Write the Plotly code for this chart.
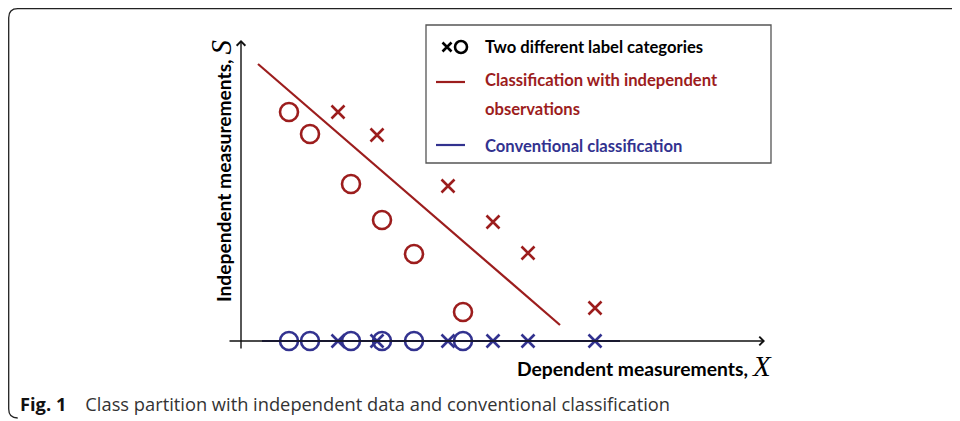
import plotly.graph_objects as go

# ---- data (axis units) ----
circle_x = [0.96, 1.38, 2.20, 2.82, 3.46, 4.44]
circle_s = [4.58, 4.14, 3.14, 2.42, 1.74, 0.58]
cross_x = [1.94, 2.72, 4.14, 5.04, 5.74, 7.08]
cross_s = [4.58, 4.12, 3.10, 2.38, 1.76, 0.66]
boundary_x = [0.34, 6.38]
boundary_s = [5.54, 0.32]
conventional_x = [0.42, 7.58]
conventional_s = [0.0, 0.0]

legend_labels = ["Two different label categories",
                 "Classification with independent",
                 "observations",
                 "Conventional classification"]
x_title = "Dependent measurements,"
y_title = "Independent measurements,"
caption_bold = "Fig. 1"
caption_text = "Class partition with independent data and conventional classification"

RED = "#9C1D1D"
BLUE = "#32328F"
OFF = 8              # page body margin
SW, SH = 960, 421    # screen size
W, H = SW - OFF, SH - OFF

def dx(px):
    return (px - OFF) / W

def dy(py):
    return 1 - (py - OFF) / H

fig = go.Figure()

fig.add_trace(go.Scatter(x=boundary_x, y=boundary_s, mode="lines",
                         line=dict(color=RED, width=2.2), showlegend=False))
fig.add_trace(go.Scatter(x=conventional_x, y=conventional_s, mode="lines",
                         line=dict(color=BLUE, width=2.2), showlegend=False))
fig.add_trace(go.Scatter(x=circle_x, y=circle_s, mode="markers",
                         marker=dict(symbol="circle-open", size=18, color=RED,
                                     line=dict(width=2.6, color=RED)), showlegend=False))
fig.add_trace(go.Scatter(x=cross_x, y=cross_s, mode="markers",
                         marker=dict(symbol="x-thin-open", size=13, color=RED,
                                     line=dict(width=2.6, color=RED)), showlegend=False))
fig.add_trace(go.Scatter(x=cross_x, y=[0] * len(cross_x), mode="markers",
                         marker=dict(symbol="x-thin-open", size=13, color=BLUE,
                                     line=dict(width=2.6, color=BLUE)), showlegend=False))
fig.add_trace(go.Scatter(x=circle_x, y=[0] * len(circle_x), mode="markers",
                         marker=dict(symbol="circle-open", size=18, color=BLUE,
                                     line=dict(width=2.6, color=BLUE)), showlegend=False))

# legend symbols on pixel overlay axes
fig.add_trace(go.Scatter(x=[447], y=[47], xaxis="x2", yaxis="y2", mode="markers",
                         marker=dict(symbol="x-thin-open", size=9, color="black",
                                     line=dict(width=2.6, color="black")), showlegend=False))
fig.add_trace(go.Scatter(x=[461], y=[47], xaxis="x2", yaxis="y2", mode="markers",
                         marker=dict(symbol="circle-open", size=12, color="black",
                                     line=dict(width=2.6, color="black")), showlegend=False))

shapes = []
r = 9
b0 = 8.7
shapes.append(dict(type="path", xref="x2", yref="y2",
                   path=f"M 980 {b0} L {b0+r} {b0} Q {b0} {b0} {b0} {b0+r} L {b0} {418-r} Q {b0} 418 {b0+r} 418",
                   line=dict(color="#222222", width=1.3)))
shapes.append(dict(type="rect", xref="x2", yref="y2", x0=426, y0=25, x1=771, y1=163,
                   line=dict(color="#555555", width=1.3), fillcolor="white", layer="below"))
shapes.append(dict(type="line", xref="x2", yref="y2", x0=436, x1=465, y0=82, y1=82,
                   line=dict(color=RED, width=2.2)))
shapes.append(dict(type="line", xref="x2", yref="y2", x0=436, x1=465, y0=145, y1=145,
                   line=dict(color=BLUE, width=2.2)))

font_main = "Lato"
ann = []
ann.append(dict(xref="x2", yref="y2", axref="x2", ayref="y2", x=765, y=341, ax=228, ay=341,
                text="", showarrow=True, arrowhead=4, arrowsize=1.2, arrowwidth=1.4,
                arrowcolor="#111111"))
ann.append(dict(xref="x2", yref="y2", axref="x2", ayref="y2", x=241, y=40, ax=241, ay=350,
                text="", showarrow=True, arrowhead=4, arrowsize=1.2, arrowwidth=1.4,
                arrowcolor="#111111"))
leg_y = [47, 80, 109, 146]
leg_c = ["black", RED, RED, BLUE]
for t, yy, cc in zip(legend_labels, leg_y, leg_c):
    ann.append(dict(xref="x2", yref="y2", x=483, y=yy, text=f"<b>{t}</b>", showarrow=False,
                    xanchor="left", yanchor="middle",
                    font=dict(family=font_main, size=16.6, color=cc)))
ann.append(dict(xref="x2", yref="y2", x=774, y=366,
                text=f"<b>{x_title}</b> <span style='font-family:Liberation Serif;font-size:29px'><i>X</i></span>",
                showarrow=False, xanchor="right", yanchor="middle",
                font=dict(family=font_main, size=19.3, color="black")))
ann.append(dict(xref="x2", yref="y2", x=221, y=171,
                text=f"<b>{y_title}</b> <span style='font-family:Liberation Serif;font-size:29px'><i>S</i></span>",
                showarrow=False, textangle=-90, xanchor="center", yanchor="middle",
                font=dict(family=font_main, size=19.2, color="black")))
ann.append(dict(xref="x2", yref="y2", x=18, y=403,
                text=f"<b>{caption_bold}</b>&nbsp;&nbsp;&nbsp;&nbsp;<span style='color:#333333'>{caption_text}</span>",
                showarrow=False, xanchor="left", yanchor="middle",
                font=dict(family="Open Sans", size=18.3, color="#111111")))

fig.update_layout(
    width=W, height=H, margin=dict(l=0, r=0, t=0, b=0),
    paper_bgcolor="white", plot_bgcolor="rgba(0,0,0,0)",
    xaxis=dict(domain=[dx(200), dx(800)], range=[-0.82, 11.18], visible=False, anchor="y"),
    yaxis=dict(domain=[dy(360), dy(30)], range=[-0.38, 6.22], visible=False, anchor="x"),
    xaxis2=dict(domain=[0, 1], range=[OFF, SW], visible=False, anchor="y2"),
    yaxis2=dict(domain=[0, 1], range=[SH, OFF], visible=False, anchor="x2"),
    shapes=shapes, annotations=ann, showlegend=False,
)

fig.write_html("out.html")
